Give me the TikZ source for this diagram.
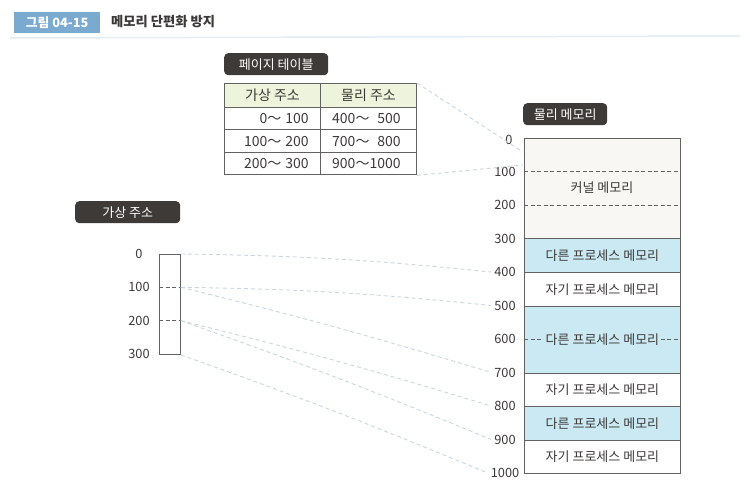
\documentclass[tikz,border=0pt]{standalone}
\usepackage{fontspec}
\setmainfont{Noto Sans CJK KR}
\definecolor{titleblue}{RGB}{122,170,208}
\definecolor{darkbox}{RGB}{62,58,56}
\definecolor{otherblue}{RGB}{202,233,243}
\definecolor{kern}{RGB}{249,247,243}
\definecolor{hdr}{RGB}{238,244,220}
\definecolor{conncol}{RGB}{200,214,224}
\definecolor{edge}{RGB}{100,98,96}
\definecolor{txt}{RGB}{60,58,56}
\definecolor{rulecol}{RGB}{226,237,245}
\begin{document}
\begin{tikzpicture}[x=1pt,y=-1pt,
  font=\fontsize{13}{15}\selectfont,
  tag/.style={fill=darkbox, text=white, rounded corners=4pt, minimum height=22pt, inner sep=0pt, anchor=north west},
  blk/.style={draw=edge, line width=0.9pt, minimum width=156pt, anchor=north west, inner sep=0pt, text=txt},
  num/.style={text=txt, inner sep=0pt, font=\fontsize{12.8}{15}\selectfont},
  conn/.style={draw=conncol, line width=0.9pt, dash pattern=on 4pt off 3pt},
  divline/.style={draw=edge, line width=0.9pt, dash pattern=on 4pt off 2.5pt},
  cell/.style={draw=edge, line width=0.9pt, anchor=north west, inner sep=0pt, minimum width=96pt, minimum height=22.5pt, text=txt, font=\fontsize{14}{16}\selectfont},
  celltxt/.style={text=txt, inner sep=0pt, font=\fontsize{14}{16}\selectfont}
]
\path[use as bounding box] (0,0) rectangle (750,489);

% title
\node[fill=titleblue, text=white, font=\bfseries\fontsize{12.8}{14}\selectfont, minimum width=86pt, minimum height=21pt, anchor=north west, inner sep=0pt] (fig) at (14,12) {그림 04-15};
\node[anchor=west, text=txt, font=\bfseries\fontsize{13.3}{15}\selectfont, inner sep=0pt] (title) at (111,22) {메모리 단편화 방지};
\coordinate (rl) at (10,38);
\coordinate (rr) at (740,36);
\draw[rulecol, line width=1.5pt] (rl) -- (rr);

% page table
\node[tag, minimum width=104pt] (pt) at (224,53) {페이지 테이블};
\node[cell, fill=hdr, minimum height=24pt] (h1) at (224,83) {가상 주소};
\node[cell, fill=hdr, minimum height=24pt] (h2) at (320,83) {물리 주소};
\node[cell] (r1a) at (224,107) {};
\node[cell] (r1b) at (320,107) {};
\node[cell] (r2a) at (224,129.5) {};
\node[cell] (r2b) at (320,129.5) {};
\node[cell] (r3a) at (224,152) {};
\node[cell] (r3b) at (320,152) {};
\node[celltxt, anchor=east] (t1a) at ([xshift=-12pt]r1a.east) {0～\hspace{4pt}100};
\node[celltxt, anchor=east] (t2a) at ([xshift=-12pt]r2a.east) {100～\hspace{4pt}200};
\node[celltxt, anchor=east] (t3a) at ([xshift=-12pt]r3a.east) {200～\hspace{4pt}300};
\node[celltxt, anchor=west] (t1b) at ([xshift=12pt]r1b.west) {400～\hphantom{0}500};
\node[celltxt, anchor=west] (t2b) at ([xshift=12pt]r2b.west) {700～\hphantom{0}800};
\node[celltxt, anchor=west] (t3b) at ([xshift=12pt]r3b.west) {900～1000};

% physical memory
\node[tag, minimum width=84pt] (pm) at (523,103) {물리 메모리};
\node[blk, fill=kern, minimum height=100.5pt] (kern) at (524,138) {};
\node[text=txt, inner sep=0pt] (kt) at (602,188) {커널 메모리};
\node[blk, fill=otherblue, minimum height=33.5pt] (p1) at (524,238.5) {다른 프로세스 메모리};
\node[blk, fill=white, minimum height=33.5pt] (p2) at (524,272) {자기 프로세스 메모리};
\node[blk, fill=otherblue, minimum height=67pt] (p3) at (524,305.5) {};
\node[blk, fill=white, minimum height=33.5pt] (p4) at (524,372.5) {자기 프로세스 메모리};
\node[blk, fill=otherblue, minimum height=33.5pt] (p5) at (524,406) {다른 프로세스 메모리};
\node[blk, fill=white, minimum height=33.5pt] (p6) at (524,439.5) {자기 프로세스 메모리};

\node[num] (n0) at (509,140) {0};
\node[num] (n100) at (505,171.5) {100};
\node[num] (n200) at (505,205) {200};
\node[num] (n300) at (505,238.5) {300};
\node[num] (n400) at (505,272) {400};
\node[num] (n500) at (505,305.5) {500};
\node[num] (n600) at (505,339) {600};
\node[num] (n700) at (505,372.5) {700};
\node[num] (n800) at (505,406) {800};
\node[num] (n900) at (505,439.5) {900};
\node[num] (n1000) at (505,473) {1000};

\draw[divline] (kern.west |- n100) -- (kern.east |- n100);
\draw[divline] (kern.west |- n200) -- (kern.east |- n200);
\draw[divline] (p3.west) -- (p3.east);
\node[fill=otherblue, text=txt, inner xsep=2pt, inner ysep=1pt] (p3t) at (p3.center) {다른 프로세스 메모리};

% virtual memory
\node[tag, minimum width=105pt] (va) at (75,201) {가상 주소};
\node[draw=edge, line width=0.9pt, minimum width=21pt, minimum height=100pt, anchor=north west, inner sep=0pt] (vm) at (159,254) {};
\node[num] (v0) at (139,254) {0};
\node[num] (v100) at (139,287.3) {100};
\node[num] (v200) at (139,320.7) {200};
\node[num] (v300) at (139,354) {300};
\draw[divline] (vm.west |- v100) -- (vm.east |- v100);
\draw[divline] (vm.west |- v200) -- (vm.east |- v200);

% connectors
\draw[conn] (vm.north east) to[bend left=2.5] ([xshift=-3pt]n400.west);
\draw[conn] (vm.east |- v100) to[bend left=2.5] ([xshift=-3pt]n500.west);
\draw[conn] (vm.east |- v100) to[bend left=1.5] ([xshift=-3pt]n700.west);
\draw[conn] (vm.east |- v200) to[bend left=1.5] ([xshift=-3pt]n800.west);
\draw[conn] (vm.east |- v200) to[bend left=1.5] ([xshift=-3pt]n900.west);
\draw[conn] (vm.south east) to[bend left=1.5] ([xshift=-3pt]n1000.west);

\coordinate (kt0) at (523,152);
\coordinate (kt1) at (523,165);
\draw[conn] (h2.north east) -- (kt0);
\draw[conn] (r3b.south east) -- (kt1);
\end{tikzpicture}
\end{document}
